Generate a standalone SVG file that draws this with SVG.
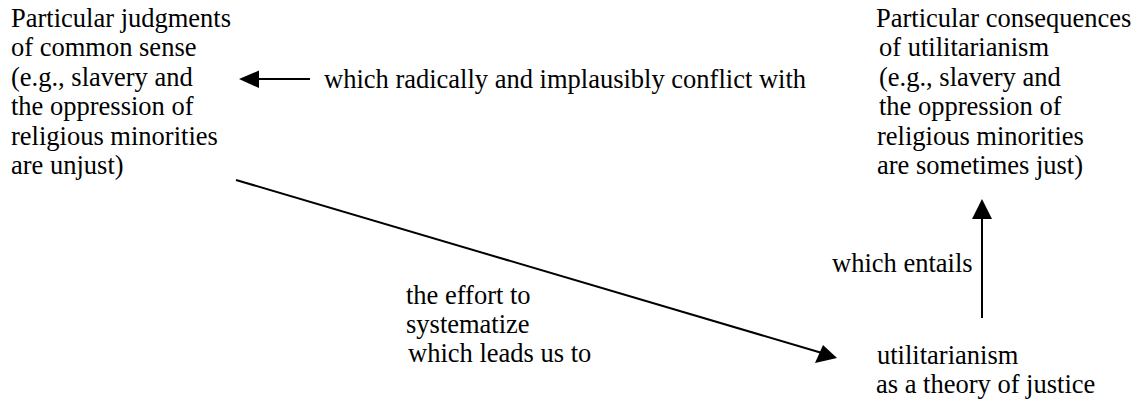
<svg xmlns="http://www.w3.org/2000/svg" width="1136" height="402" viewBox="0 0 1136 402">
<style>
text{font-family:'Liberation Serif','Times New Roman',serif;font-size:26.5px;fill:#000}
.ln{stroke:#000;stroke-width:2;fill:none}
.hd{fill:#000;stroke:none}
</style>
<rect width="1136" height="402" fill="#fff"/>
<g id="node-common-sense">
<text x="11" y="26.5">Particular judgments</text>
<text x="11" y="56">of common sense</text>
<text x="11" y="85.5">(e.g., slavery and</text>
<text x="11" y="115">the oppression of</text>
<text x="11" y="144.5">religious minorities</text>
<text x="11" y="174">are unjust)</text>
</g>
<g id="node-consequences">
<text x="876" y="26.5">Particular consequences</text>
<text x="879" y="56">of utilitarianism</text>
<text x="879" y="85.5">(e.g., slavery and</text>
<text x="879" y="115">the oppression of</text>
<text x="877" y="144.5">religious minorities</text>
<text x="877" y="174">are sometimes just)</text>
</g>
<g id="node-utilitarianism">
<text x="877" y="364">utilitarianism</text>
<text x="876" y="393">as a theory of justice</text>
</g>
<g id="connectors">
<path class="ln" d="M310 79 H256"/>
<polygon class="hd" points="239,79 259,70.5 259,88"/>
<text x="324" y="88">which radically and implausibly conflict with</text>
<path class="ln" d="M236 180 L822 353"/>
<polygon class="hd" points="837,358 815,363 823,345"/>
<text x="406" y="304">the effort to</text>
<text x="406" y="333">systematize</text>
<text x="408" y="362">which leads us to</text>
<path class="ln" d="M982 318 V215"/>
<polygon class="hd" points="982,199 972,219 992,219"/>
<text x="832" y="272">which entails</text>
</g>
</svg>
